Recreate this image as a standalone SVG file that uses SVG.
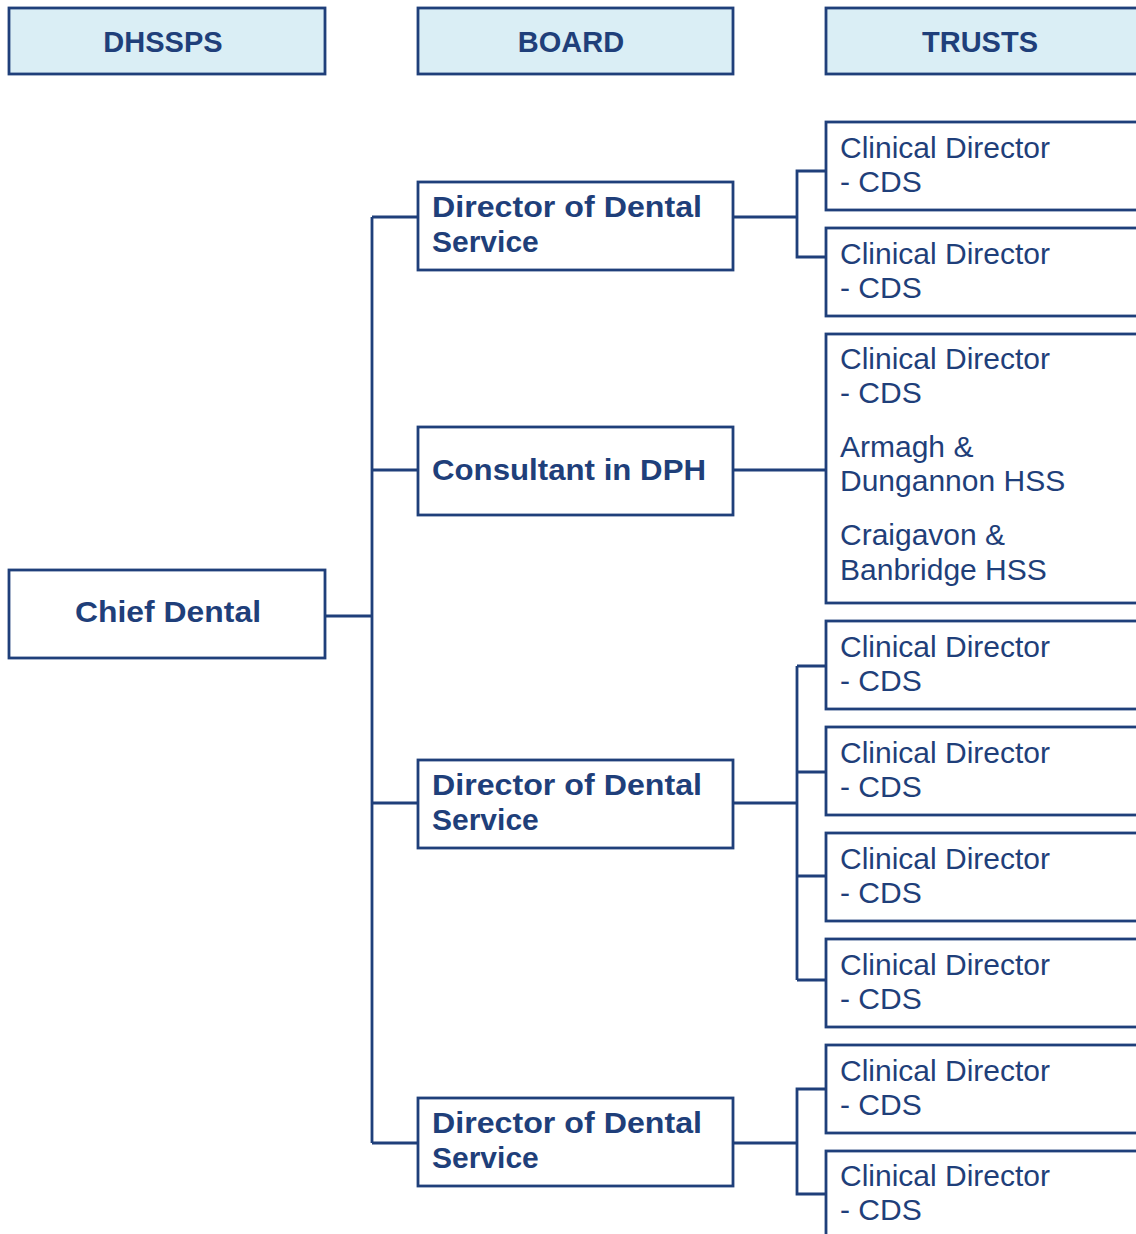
<svg xmlns="http://www.w3.org/2000/svg" width="1136" height="1234" viewBox="0 0 1136 1234">
<style>
.hdr{fill:#daeef5;stroke:#1f3f7a;stroke-width:2.8}
.box{fill:#ffffff;stroke:#1f3f7a;stroke-width:2.8}
.ht{font-family:"Liberation Sans",Arial,sans-serif;font-weight:bold;font-size:29px;fill:#1f3f7a;text-anchor:middle}
.bt{font-family:"Liberation Sans",Arial,sans-serif;font-weight:bold;font-size:30px;fill:#1f3f7a}
.rt{font-family:"Liberation Sans",Arial,sans-serif;font-size:30px;fill:#1f3f7a}
.con{fill:none;stroke:#1f3f7a;stroke-width:2.8}
</style>
<rect width="1136" height="1234" fill="#ffffff"/>
<g id="connectors">
<path class="con" d="M325,616 H372 M372,217 V1143 M372,217 H418 M372,470 H418 M372,803 H418 M372,1143 H418"/>
<path class="con" d="M733,217 H797 M826,171 H797 V257 H826"/>
<path class="con" d="M733,470 H826"/>
<path class="con" d="M733,803 H797 M797,666 V980 M797,666 H826 M797,772 H826 M797,876 H826 M797,980 H826"/>
<path class="con" d="M733,1143 H797 M826,1089 H797 V1194 H826"/>
</g>
<g id="h-dhssps"><rect class="hdr" x="9" y="8" width="316" height="66"/><text class="ht" x="163" y="52">DHSSPS</text></g>
<g id="h-board"><rect class="hdr" x="418" y="8" width="315" height="66"/><text class="ht" x="571" y="52">BOARD</text></g>
<g id="h-trusts"><rect class="hdr" x="826" y="8" width="320" height="66"/><text class="ht" x="980" y="52">TRUSTS</text></g>
<g id="chief"><rect class="box" x="9" y="570" width="316" height="88"/><text class="bt" x="75" y="622" textLength="186" lengthAdjust="spacingAndGlyphs">Chief Dental</text></g>
<g id="board1"><rect class="box" x="418" y="182" width="315" height="88"/><text class="bt" x="432" y="217" textLength="270" lengthAdjust="spacingAndGlyphs">Director of Dental</text><text class="bt" x="432" y="252">Service</text></g>
<g id="board2"><rect class="box" x="418" y="427" width="315" height="88"/><text class="bt" x="432" y="480" textLength="274" lengthAdjust="spacingAndGlyphs">Consultant in DPH</text></g>
<g id="board3"><rect class="box" x="418" y="760" width="315" height="88"/><text class="bt" x="432" y="795" textLength="270" lengthAdjust="spacingAndGlyphs">Director of Dental</text><text class="bt" x="432" y="830">Service</text></g>
<g id="board4"><rect class="box" x="418" y="1098" width="315" height="88"/><text class="bt" x="432" y="1133" textLength="270" lengthAdjust="spacingAndGlyphs">Director of Dental</text><text class="bt" x="432" y="1168">Service</text></g>
<g id="trust1"><rect class="box" x="826" y="122" width="320" height="88"/><text class="rt" x="840" y="158">Clinical Director</text><text class="rt" x="840" y="192">- CDS</text></g>
<g id="trust2"><rect class="box" x="826" y="228" width="320" height="88"/><text class="rt" x="840" y="264">Clinical Director</text><text class="rt" x="840" y="298">- CDS</text></g>
<g id="trust3"><rect class="box" x="826" y="334" width="320" height="269"/><text class="rt" x="840" y="369">Clinical Director</text><text class="rt" x="840" y="403">- CDS</text><text class="rt" x="840" y="457">Armagh &amp;</text><text class="rt" x="840" y="491">Dungannon HSS</text><text class="rt" x="840" y="545">Craigavon &amp;</text><text class="rt" x="840" y="580">Banbridge HSS</text></g>
<g id="trust4"><rect class="box" x="826" y="621" width="320" height="88"/><text class="rt" x="840" y="657">Clinical Director</text><text class="rt" x="840" y="691">- CDS</text></g>
<g id="trust5"><rect class="box" x="826" y="727" width="320" height="88"/><text class="rt" x="840" y="763">Clinical Director</text><text class="rt" x="840" y="797">- CDS</text></g>
<g id="trust6"><rect class="box" x="826" y="833" width="320" height="88"/><text class="rt" x="840" y="869">Clinical Director</text><text class="rt" x="840" y="903">- CDS</text></g>
<g id="trust7"><rect class="box" x="826" y="939" width="320" height="88"/><text class="rt" x="840" y="975">Clinical Director</text><text class="rt" x="840" y="1009">- CDS</text></g>
<g id="trust8"><rect class="box" x="826" y="1045" width="320" height="88"/><text class="rt" x="840" y="1081">Clinical Director</text><text class="rt" x="840" y="1115">- CDS</text></g>
<g id="trust9"><rect class="box" x="826" y="1151" width="320" height="100"/><text class="rt" x="840" y="1186">Clinical Director</text><text class="rt" x="840" y="1220">- CDS</text></g>
</svg>
